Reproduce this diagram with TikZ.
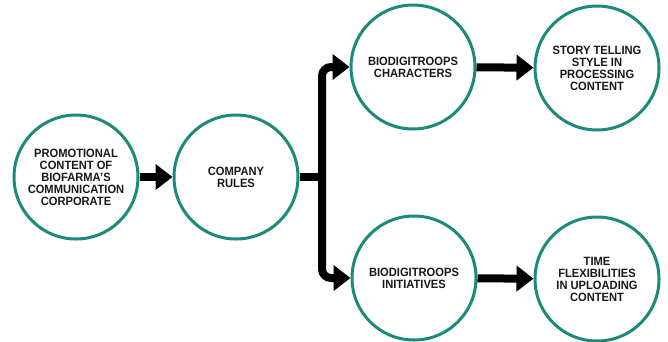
\documentclass[tikz,border=0pt]{standalone}
\usepackage{fontspec}
\setmainfont{Liberation Sans}[FakeStretch=0.93]
\usetikzlibrary{arrows.meta}
\definecolor{ringteal}{RGB}{28,138,122}
\definecolor{ink}{RGB}{25,25,25}
\begin{document}
\begin{tikzpicture}[x=1pt,y=-1pt,
  stage/.style={circle,draw=ringteal,line width=3pt,fill=white,minimum size=124pt,inner sep=0pt,
    align=center,text=ink,font=\fontsize{12}{12}\selectfont\bfseries},
  flow/.style={line width=8pt,draw=black,-{Triangle[width=25pt,length=17pt]}},
  trunk/.style={line width=8pt,draw=black}]
\useasboundingbox (0,0) rectangle (668,341);

\node[stage] (c1) at (76,177) {PROMOTIONAL\\CONTENT OF\\BIOFARMA’S\\COMMUNICATION\\CORPORATE};
\node[stage] (c2) at (236,177) {COMPANY\\RULES};
\node[stage] (c3) at (413,67) {BIODIGITROOPS\\CHARACTERS};
\node[stage] (c4) at (597,68) {STORY TELLING\\STYLE IN\\PROCESSING\\CONTENT};
\node[stage] (c5) at (414,278) {BIODIGITROOPS\\INITIATIVES};
\node[stage] (c6) at (597,279) {TIME\\FLEXIBILITIES\\IN UPLOADING\\CONTENT};

\coordinate (j) at (322,177);

\draw[flow] (c1) -- (c2);
\draw[trunk] (c2.east) -- (j);
\draw[flow,rounded corners=9pt] (j) |- (c3.west);
\draw[flow,rounded corners=9pt] (j) |- (c5.west);
\draw[flow] (c3) -- (c4);
\draw[flow] (c5) -- (c6);
\end{tikzpicture}
\end{document}
